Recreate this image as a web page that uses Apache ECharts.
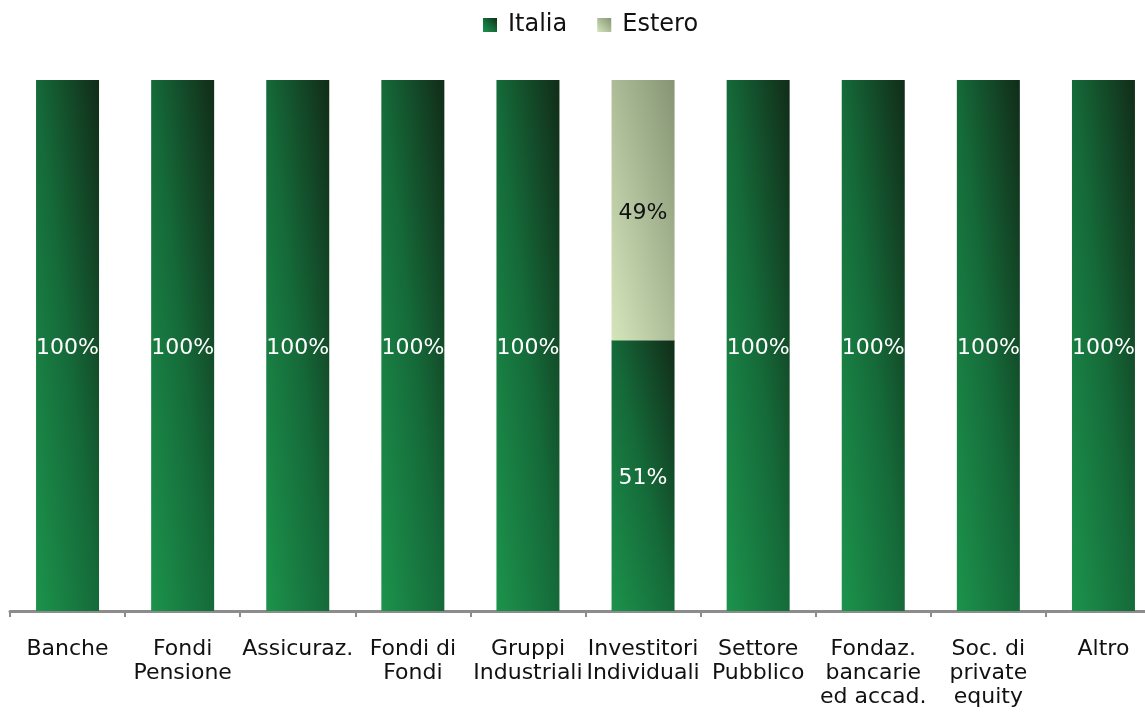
<!DOCTYPE html>
<html>
<head>
<meta charset="utf-8">
<script src="https://cdn.jsdelivr.net/npm/echarts@6/dist/echarts.min.js"></script>
<style>
  html, body { margin: 0; padding: 0; background: #fff; overflow: hidden; }
  #chart { width: 1145px; height: 715px; }
</style>
</head>
<body>
<div id="chart"></div>
<script>
// Investor categories (x-axis)
const categories = [
  'Banche', 'Fondi\nPensione', 'Assicuraz.', 'Fondi di\nFondi', 'Gruppi\nIndustriali',
  'Investitori\nIndividuali', 'Settore\nPubblico', 'Fondaz.\nbancarie\ned accad.', 'Soc. di\nprivate\nequity', 'Altro'
];
// Share of each category by origin (percent)
const italia = [100, 100, 100, 100, 100, 51, 100, 100, 100, 100];
const estero = [0, 0, 0, 0, 0, 49, 0, 0, 0, 0];

const FONT = 'DejaVu Sans';
// The plot runs a little past the right edge of the canvas.
const GRID = { left: 10, width: 1151, top: 80, height: 531 };
const BAR_W = 63;
const PLOT_H = GRID.height;

// Corner-to-corner shading: bottom-left light, top-right dark, with the
// colour bands running along the rectangle's anti-diagonal.
function diagonalFill(value, stops, w) {
  const h = Math.max(1, value / 100 * PLOT_H);
  w = w || BAR_W;
  const s = h * h + w * w;
  const a = h * h / s;
  const b = w * w / s;
  return new echarts.graphic.LinearGradient(0.5 - a, 0.5 + b, 0.5 + a, 0.5 - b, stops);
}
const greenStops = [
  { offset: 0, color: '#1c934c' },
  { offset: 0.5, color: '#156a39' },
  { offset: 1, color: '#112c18' }
];
const paleStops = [
  { offset: 0, color: '#d5e5bb' },
  { offset: 0.5, color: '#adbd98' },
  { offset: 1, color: '#869473' }
];

const chart = echarts.init(document.getElementById('chart'), null, { renderer: 'canvas' });
chart.setOption({
  animation: false,
  textStyle: { fontFamily: FONT },
  legend: {
    top: 8,
    left: 478,
    itemWidth: 14,
    itemHeight: 14,
    itemGap: 30,
    icon: 'rect',
    textStyle: { fontFamily: FONT, fontSize: 24, color: '#111', padding: [0, 0, 0, 6] },
    data: [
      { name: 'Italia', itemStyle: { color: diagonalFill(2.6, greenStops, 14) } },
      { name: 'Estero', itemStyle: { color: diagonalFill(2.6, paleStops, 14) } }
    ]
  },
  grid: Object.assign({ containLabel: false, outerBoundsMode: 'none' }, GRID),
  xAxis: {
    type: 'category',
    data: categories,
    axisLine: { lineStyle: { color: '#8c8c8c', width: 3 } },
    axisTick: { show: true, length: 6, lineStyle: { color: '#8c8c8c', width: 2 } },
    axisLabel: {
      interval: 0,
      margin: 26,
      fontFamily: FONT,
      fontSize: 22,
      lineHeight: 24,
      color: '#111',
      align: 'center'
    }
  },
  yAxis: {
    type: 'value',
    min: 0,
    max: 100,
    show: false,
    splitLine: { show: false }
  },
  series: [
    {
      name: 'Italia',
      type: 'bar',
      stack: 'tot',
      barWidth: BAR_W,
      data: italia,
      itemStyle: { color: p => diagonalFill(p.value, greenStops) },
      label: {
        show: true,
        position: 'inside',
        offset: [0, 3],
        fontFamily: FONT,
        fontSize: 22,
        color: '#fff',
        formatter: p => p.value > 0 ? p.value + '%' : ''
      }
    },
    {
      name: 'Estero',
      type: 'bar',
      stack: 'tot',
      barWidth: BAR_W,
      data: estero,
      itemStyle: { color: p => diagonalFill(p.value, paleStops) },
      label: {
        show: true,
        position: 'inside',
        offset: [0, 3],
        fontFamily: FONT,
        fontSize: 22,
        color: '#111',
        formatter: p => p.value > 0 ? p.value + '%' : ''
      }
    }
  ]
});
</script>
</body>
</html>
